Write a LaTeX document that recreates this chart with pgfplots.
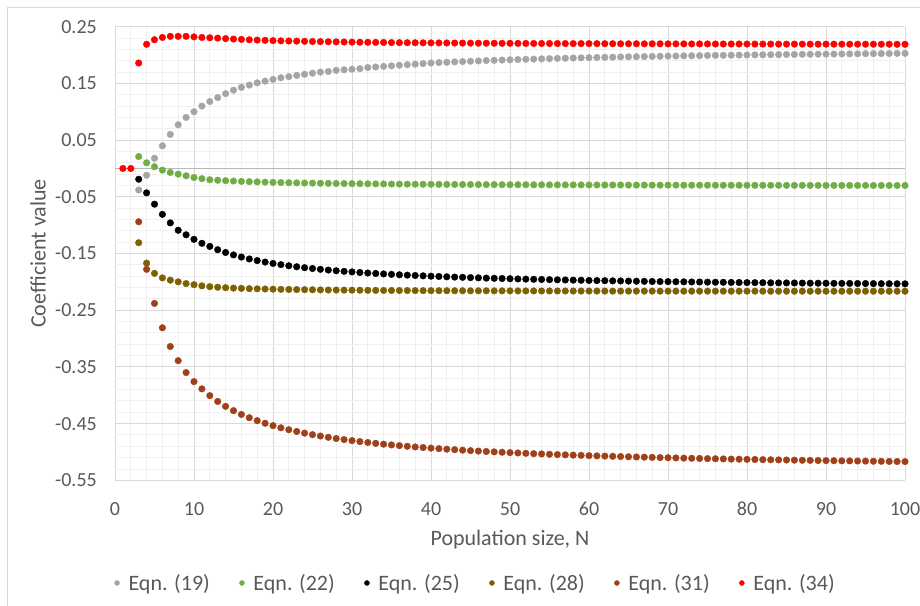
\documentclass[border=0pt]{standalone}
\usepackage{fontspec}
\setmainfont{Carlito}
\usepackage{pgfplots}
\pgfplotsset{compat=1.18}
\definecolor{txt}{HTML}{595959}
\definecolor{cA}{HTML}{A5A5A5}
\definecolor{cB}{HTML}{70AD47}
\definecolor{cC}{HTML}{000000}
\definecolor{cD}{HTML}{7F6000}
\definecolor{cE}{HTML}{A0401A}
\definecolor{cF}{HTML}{FF0000}
\begin{document}
\begin{tikzpicture}[x=1pt,y=1pt]
\useasboundingbox (0,0) rectangle (920,605);
\draw[color=black!15, line width=1pt] (7,-5) -- (7,597) -- (930,597);
\begin{axis}[at={(115pt,124.7pt)}, anchor=south west, scale only axis,
  width=790pt, height=453.6pt,
  xmin=0, xmax=100, ymin=-0.55, ymax=0.25,
  xtick={0,10,20,30,40,50,60,70,80,90,100},
  xticklabels={0,10,20,30,40,50,60,70,80,90,100},
  ytick={-0.55,-0.45,-0.35,-0.25,-0.15,-0.05,0.05,0.15,0.25},
  yticklabels={-0.55,-0.45,-0.35,-0.25,-0.15,-0.05,0.05,0.15,0.25},
  minor x tick num=4, minor y tick num=4,
  grid=both,
  major grid style={draw=black!15, line width=0.9pt},
  minor grid style={draw=black!6, line width=0.9pt},
  axis line style={draw=none},
  major tick length=0pt, minor tick length=0pt,
  tick label style={font=\fontsize{20}{24}\selectfont, text=txt},
  yticklabel style={anchor=east, inner sep=0pt, xshift=-18pt},
  xticklabel style={anchor=north, inner sep=0pt, yshift=-21.7pt},
  xlabel={Population size, N}, ylabel={Coefficient value},
  label style={font=\fontsize{22}{26}\selectfont, text=txt},
  xlabel style={at={(axis description cs:0.5,-0.13)}, anchor=center},
  ylabel style={at={(axis description cs:-0.0975,0.5)}, anchor=center},
  legend columns=6,
  legend style={at={(axis description cs:-0.0006,-0.2264)}, anchor=west,
    draw=none, fill=none, inner sep=0pt, outer sep=0pt,
    font=\fontsize{22}{26}\selectfont, text=txt,
    nodes={inner sep=0pt},
    /tikz/every odd column/.append style={column sep=9pt},
    /tikz/every even column/.append style={column sep=29.6pt}},
  legend image code/.code={\draw[#1,mark size=2.5pt] plot coordinates {(0pt,0pt)};},
]
\draw[black!28, line width=1pt] (axis cs:0,0) -- (axis cs:100,0);
\addplot[only marks, mark=*, mark size=3.3pt, color=cA] coordinates {
(3,-0.038)(4,-0.012)(5,0.018)(6,0.040)(7,0.060)(8,0.077)(9,0.090)(10,0.100)(11,0.110)(12,0.118)(13,0.125)(14,0.132)(15,0.138)(16,0.143)(17,0.147)(18,0.151)(19,0.154)(20,0.157)(21,0.160)(22,0.162)(23,0.164)(24,0.166)(25,0.168)(26,0.170)(27,0.171)(28,0.173)(29,0.174)(30,0.175)(31,0.176)(32,0.178)(33,0.179)(34,0.180)(35,0.181)(36,0.182)(37,0.183)(38,0.184)(39,0.185)(40,0.186)(41,0.1867)(42,0.1873)(43,0.1880)(44,0.1885)(45,0.1891)(46,0.1897)(47,0.1902)(48,0.1907)(49,0.1912)(50,0.1916)(51,0.1921)(52,0.1925)(53,0.1929)(54,0.1933)(55,0.1937)(56,0.1941)(57,0.1944)(58,0.1948)(59,0.1951)(60,0.1954)(61,0.1957)(62,0.1960)(63,0.1963)(64,0.1966)(65,0.1969)(66,0.1971)(67,0.1974)(68,0.1976)(69,0.1979)(70,0.1981)(71,0.1983)(72,0.1986)(73,0.1988)(74,0.1990)(75,0.1992)(76,0.1994)(77,0.1996)(78,0.1998)(79,0.2000)(80,0.2001)(81,0.2003)(82,0.2005)(83,0.2006)(84,0.2008)(85,0.2010)(86,0.2011)(87,0.2013)(88,0.2014)(89,0.2016)(90,0.2017)(91,0.2018)(92,0.2020)(93,0.2021)(94,0.2022)(95,0.2024)(96,0.2025)(97,0.2026)(98,0.2027)(99,0.2029)(100,0.2030)
};
\addlegendentry{Eqn. (19)}
\addplot[only marks, mark=*, mark size=3.3pt, color=cB] coordinates {
(3,0.021)(4,0.010)(5,0.003)(6,-0.003)(7,-0.007)(8,-0.010)(9,-0.013)(10,-0.016)(11,-0.018)(12,-0.0199)(13,-0.0208)(14,-0.0216)(15,-0.0222)(16,-0.0228)(17,-0.0233)(18,-0.0237)(19,-0.0241)(20,-0.0245)(21,-0.0248)(22,-0.0251)(23,-0.0254)(24,-0.0257)(25,-0.0259)(26,-0.0261)(27,-0.0263)(28,-0.0265)(29,-0.0266)(30,-0.0268)(31,-0.0269)(32,-0.0271)(33,-0.0272)(34,-0.0273)(35,-0.0275)(36,-0.0276)(37,-0.0277)(38,-0.0278)(39,-0.0279)(40,-0.0279)(41,-0.0280)(42,-0.0281)(43,-0.0282)(44,-0.0283)(45,-0.0283)(46,-0.0284)(47,-0.0285)(48,-0.0285)(49,-0.0286)(50,-0.0286)(51,-0.0287)(52,-0.0287)(53,-0.0288)(54,-0.0288)(55,-0.0289)(56,-0.0289)(57,-0.0290)(58,-0.0290)(59,-0.0290)(60,-0.0291)(61,-0.0291)(62,-0.0292)(63,-0.0292)(64,-0.0292)(65,-0.0293)(66,-0.0293)(67,-0.0293)(68,-0.0294)(69,-0.0294)(70,-0.0294)(71,-0.0294)(72,-0.0295)(73,-0.0295)(74,-0.0295)(75,-0.0295)(76,-0.0296)(77,-0.0296)(78,-0.0296)(79,-0.0296)(80,-0.0297)(81,-0.0297)(82,-0.0297)(83,-0.0297)(84,-0.0297)(85,-0.0298)(86,-0.0298)(87,-0.0298)(88,-0.0298)(89,-0.0298)(90,-0.0299)(91,-0.0299)(92,-0.0299)(93,-0.0299)(94,-0.0299)(95,-0.0299)(96,-0.0300)(97,-0.0300)(98,-0.0300)(99,-0.0300)(100,-0.0300)
};
\addlegendentry{Eqn. (22)}
\addplot[only marks, mark=*, mark size=3.3pt, color=cC] coordinates {
(3,-0.019)(4,-0.043)(5,-0.063)(6,-0.081)(7,-0.096)(8,-0.109)(9,-0.117)(10,-0.125)(11,-0.132)(12,-0.1375)(13,-0.1433)(14,-0.1482)(15,-0.1525)(16,-0.1563)(17,-0.1596)(18,-0.1625)(19,-0.1651)(20,-0.1675)(21,-0.1696)(22,-0.1716)(23,-0.1734)(24,-0.1750)(25,-0.1765)(26,-0.1779)(27,-0.1792)(28,-0.1804)(29,-0.1815)(30,-0.1825)(31,-0.1835)(32,-0.1844)(33,-0.1852)(34,-0.1860)(35,-0.1868)(36,-0.1875)(37,-0.1882)(38,-0.1888)(39,-0.1894)(40,-0.1900)(41,-0.1905)(42,-0.1911)(43,-0.1916)(44,-0.1920)(45,-0.1925)(46,-0.1929)(47,-0.1934)(48,-0.1937)(49,-0.1941)(50,-0.1945)(51,-0.1949)(52,-0.1952)(53,-0.1955)(54,-0.1958)(55,-0.1961)(56,-0.1964)(57,-0.1967)(58,-0.1970)(59,-0.1972)(60,-0.1975)(61,-0.1978)(62,-0.1980)(63,-0.1982)(64,-0.1984)(65,-0.1987)(66,-0.1989)(67,-0.1991)(68,-0.1993)(69,-0.1995)(70,-0.1996)(71,-0.1998)(72,-0.2000)(73,-0.2002)(74,-0.2003)(75,-0.2005)(76,-0.2007)(77,-0.2008)(78,-0.2010)(79,-0.2011)(80,-0.2013)(81,-0.2014)(82,-0.2015)(83,-0.2017)(84,-0.2018)(85,-0.2019)(86,-0.2020)(87,-0.2022)(88,-0.2023)(89,-0.2024)(90,-0.2025)(91,-0.2026)(92,-0.2027)(93,-0.2028)(94,-0.2029)(95,-0.2030)(96,-0.2031)(97,-0.2032)(98,-0.2033)(99,-0.2034)(100,-0.2035)
};
\addlegendentry{Eqn. (25)}
\addplot[only marks, mark=*, mark size=3.3pt, color=cD] coordinates {
(3,-0.131)(4,-0.167)(5,-0.185)(6,-0.193)(7,-0.197)(8,-0.200)(9,-0.203)(10,-0.205)(11,-0.207)(12,-0.2085)(13,-0.2095)(14,-0.2103)(15,-0.2110)(16,-0.2115)(17,-0.2120)(18,-0.2123)(19,-0.2126)(20,-0.2129)(21,-0.2132)(22,-0.2134)(23,-0.2136)(24,-0.2138)(25,-0.2140)(26,-0.2142)(27,-0.2144)(28,-0.2145)(29,-0.2146)(30,-0.2147)(31,-0.2148)(32,-0.2149)(33,-0.2150)(34,-0.2151)(35,-0.2152)(36,-0.2153)(37,-0.2153)(38,-0.2154)(39,-0.2155)(40,-0.2155)(41,-0.2156)(42,-0.2156)(43,-0.2157)(44,-0.2157)(45,-0.2158)(46,-0.2158)(47,-0.2158)(48,-0.2159)(49,-0.2159)(50,-0.2159)(51,-0.2160)(52,-0.2160)(53,-0.2160)(54,-0.2161)(55,-0.2161)(56,-0.2161)(57,-0.2161)(58,-0.2162)(59,-0.2162)(60,-0.2162)(61,-0.2162)(62,-0.2162)(63,-0.2163)(64,-0.2163)(65,-0.2163)(66,-0.2163)(67,-0.2163)(68,-0.2163)(69,-0.2164)(70,-0.2164)(71,-0.2164)(72,-0.2164)(73,-0.2164)(74,-0.2164)(75,-0.2164)(76,-0.2164)(77,-0.2164)(78,-0.2164)(79,-0.2164)(80,-0.2164)(81,-0.2164)(82,-0.2164)(83,-0.2165)(84,-0.2165)(85,-0.2165)(86,-0.2165)(87,-0.2165)(88,-0.2165)(89,-0.2165)(90,-0.2165)(91,-0.2165)(92,-0.2165)(93,-0.2165)(94,-0.2165)(95,-0.2165)(96,-0.2165)(97,-0.2165)(98,-0.2165)(99,-0.2165)(100,-0.2165)
};
\addlegendentry{Eqn. (28)}
\addplot[only marks, mark=*, mark size=3.3pt, color=cE] coordinates {
(3,-0.094)(4,-0.178)(5,-0.238)(6,-0.281)(7,-0.314)(8,-0.339)(9,-0.360)(10,-0.376)(11,-0.3887)(12,-0.4007)(13,-0.4109)(14,-0.4196)(15,-0.4272)(16,-0.4338)(17,-0.4396)(18,-0.4448)(19,-0.4494)(20,-0.4536)(21,-0.4574)(22,-0.4608)(23,-0.4639)(24,-0.4668)(25,-0.4695)(26,-0.4719)(27,-0.4742)(28,-0.4763)(29,-0.4782)(30,-0.4800)(31,-0.4817)(32,-0.4833)(33,-0.4848)(34,-0.4863)(35,-0.4876)(36,-0.4888)(37,-0.4900)(38,-0.4912)(39,-0.4922)(40,-0.4932)(41,-0.4942)(42,-0.4951)(43,-0.4960)(44,-0.4969)(45,-0.4977)(46,-0.4984)(47,-0.4992)(48,-0.4999)(49,-0.5005)(50,-0.5012)(51,-0.5018)(52,-0.5024)(53,-0.5030)(54,-0.5035)(55,-0.5041)(56,-0.5046)(57,-0.5051)(58,-0.5056)(59,-0.5060)(60,-0.5065)(61,-0.5069)(62,-0.5073)(63,-0.5077)(64,-0.5081)(65,-0.5085)(66,-0.5089)(67,-0.5092)(68,-0.5096)(69,-0.5099)(70,-0.5102)(71,-0.5106)(72,-0.5109)(73,-0.5112)(74,-0.5115)(75,-0.5118)(76,-0.5120)(77,-0.5123)(78,-0.5126)(79,-0.5128)(80,-0.5131)(81,-0.5133)(82,-0.5136)(83,-0.5138)(84,-0.5140)(85,-0.5142)(86,-0.5145)(87,-0.5147)(88,-0.5149)(89,-0.5151)(90,-0.5153)(91,-0.5155)(92,-0.5157)(93,-0.5158)(94,-0.5160)(95,-0.5162)(96,-0.5164)(97,-0.5165)(98,-0.5167)(99,-0.5169)(100,-0.5170)
};
\addlegendentry{Eqn. (31)}
\addplot[only marks, mark=*, mark size=3.3pt, color=cF] coordinates {
(1,0)(2,0)(3,0.186)(4,0.219)(5,0.227)(6,0.231)(7,0.233)(8,0.233)(9,0.233)(10,0.232)(11,0.231)(12,0.2305)(13,0.2299)(14,0.2290)(15,0.2282)(16,0.2276)(17,0.2270)(18,0.2264)(19,0.2260)(20,0.2255)(21,0.2251)(22,0.2248)(23,0.2245)(24,0.2242)(25,0.2239)(26,0.2237)(27,0.2234)(28,0.2232)(29,0.2230)(30,0.2228)(31,0.2226)(32,0.2225)(33,0.2223)(34,0.2222)(35,0.2220)(36,0.2219)(37,0.2218)(38,0.2217)(39,0.2216)(40,0.2215)(41,0.2214)(42,0.2213)(43,0.2212)(44,0.2211)(45,0.2210)(46,0.2209)(47,0.2209)(48,0.2208)(49,0.2207)(50,0.2207)(51,0.2206)(52,0.2205)(53,0.2205)(54,0.2204)(55,0.2204)(56,0.2203)(57,0.2203)(58,0.2202)(59,0.2202)(60,0.2201)(61,0.2201)(62,0.2200)(63,0.2200)(64,0.2199)(65,0.2199)(66,0.2199)(67,0.2198)(68,0.2198)(69,0.2198)(70,0.2197)(71,0.2197)(72,0.2197)(73,0.2196)(74,0.2196)(75,0.2196)(76,0.2195)(77,0.2195)(78,0.2195)(79,0.2195)(80,0.2194)(81,0.2194)(82,0.2194)(83,0.2194)(84,0.2193)(85,0.2193)(86,0.2193)(87,0.2193)(88,0.2192)(89,0.2192)(90,0.2192)(91,0.2192)(92,0.2192)(93,0.2191)(94,0.2191)(95,0.2191)(96,0.2191)(97,0.2191)(98,0.2191)(99,0.2190)(100,0.2190)
};
\addlegendentry{Eqn. (34)}
\end{axis}
\end{tikzpicture}
\end{document}
